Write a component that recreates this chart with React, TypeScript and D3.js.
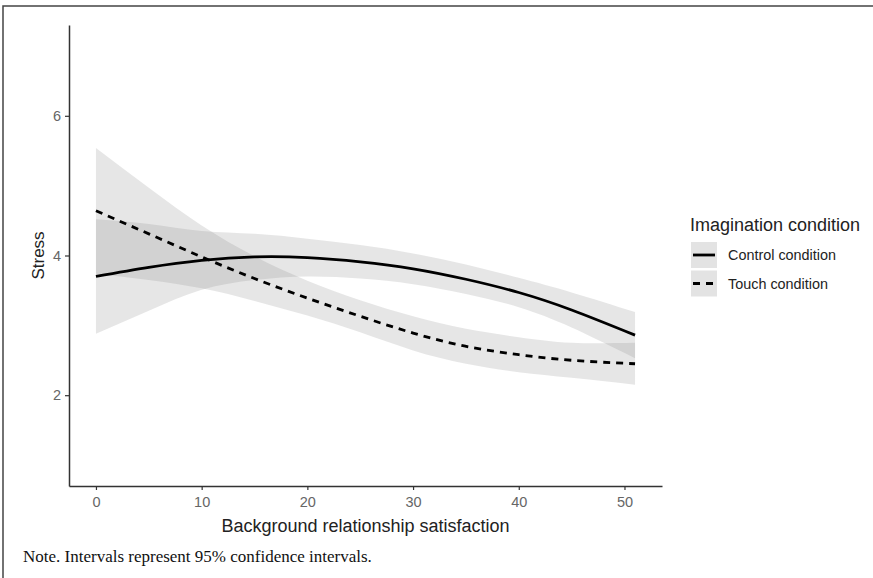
import { useEffect, useRef } from "react";
import * as d3 from "d3";

const width = 873;
const height = 578;
const panel = { left: 69, right: 662, top: 25, bottom: 486 };

// values
const satisfaction = [0, 5, 10, 15, 20, 25, 30, 35, 40, 45, 51];
const controlFit = [3.7, 3.83, 3.93, 3.98, 3.97, 3.91, 3.81, 3.66, 3.47, 3.22, 2.86];
const controlLow = [2.88, 3.21, 3.51, 3.65, 3.7, 3.67, 3.59, 3.45, 3.26, 2.97, 2.53];
const controlHigh = [4.52, 4.45, 4.35, 4.31, 4.24, 4.15, 4.03, 3.87, 3.68, 3.47, 3.19];
const touchFit = [4.64, 4.31, 3.98, 3.67, 3.39, 3.13, 2.89, 2.7, 2.58, 2.5, 2.45];
const touchLow = [3.74, 3.65, 3.53, 3.35, 3.14, 2.9, 2.64, 2.45, 2.33, 2.25, 2.15];
const touchHigh = [5.54, 4.97, 4.43, 3.99, 3.64, 3.36, 3.13, 2.95, 2.83, 2.75, 2.75];

const xTicks = [0, 10, 20, 30, 40, 50];
const yTicks = [2, 4, 6];
const conditions = ["Control condition", "Touch condition"];
const dashes = ["none", "7,6"];

const sans = "'Liberation Sans', Arial, sans-serif";

const xScale = d3.scaleLinear().domain([-2.55, 53.55]).range([panel.left, panel.right]);
const yScale = d3.scaleLinear().domain([0.7, 7.3]).range([panel.bottom, panel.top]);

type Pt = { x: number; fit: number; lo: number; hi: number };

const toPts = (fit: number[], lo: number[], hi: number[]): Pt[] =>
  satisfaction.map((x, i) => ({ x, fit: fit[i], lo: lo[i], hi: hi[i] }));

const series = [
  toPts(controlFit, controlLow, controlHigh),
  toPts(touchFit, touchLow, touchHigh),
];

const line = d3
  .line<Pt>()
  .x((d) => xScale(d.x))
  .y((d) => yScale(d.fit))
  .curve(d3.curveNatural);

const ribbon = d3
  .area<Pt>()
  .x((d) => xScale(d.x))
  .y0((d) => yScale(d.lo))
  .y1((d) => yScale(d.hi))
  .curve(d3.curveNatural);

const App = () => {
  const xAxisRef = useRef(null);
  const yAxisRef = useRef(null);

  // axes
  useEffect(() => {
    const style = (g: any) => {
      g.select(".domain").attr("stroke", "#333").attr("stroke-width", 1.5);
      g.selectAll(".tick line").attr("stroke", "#333").attr("stroke-width", 1.2);
      g.selectAll(".tick text")
        .attr("fill", "#666")
        .style("font-family", sans)
        .style("font-size", "14.5px");
    };
    if (xAxisRef.current) {
      const xAxis = d3
        .axisBottom(xScale)
        .tickValues(xTicks)
        .tickFormat(d3.format("d"))
        .tickSize(4)
        .tickSizeOuter(0)
        .tickPadding(7);
      d3.select<SVGGElement, unknown>(xAxisRef.current).call(xAxis).call(style);
    }
    if (yAxisRef.current) {
      const yAxis = d3
        .axisLeft(yScale)
        .tickValues(yTicks)
        .tickFormat(d3.format("d"))
        .tickSize(4)
        .tickSizeOuter(0)
        .tickPadding(4);
      d3.select<SVGGElement, unknown>(yAxisRef.current).call(yAxis).call(style);
    }
  }, []);

  return (
    <svg width={width} height={height} style={{ position: "absolute", left: 0, top: 0, background: "#fff" }}>
      {/* frame */}
      <path d={`M3,${height} V6 H${width}`} fill="none" stroke="#444" strokeWidth={1.5} />

      {series.map((s, i) => (
        <path key={"r" + i} d={ribbon(s) ?? ""} fill="#808080" fillOpacity={0.2} />
      ))}
      {series.map((s, i) => (
        <path
          key={"l" + i}
          d={line(s) ?? ""}
          fill="none"
          stroke="#000"
          strokeWidth={2.8}
          strokeDasharray={dashes[i]}
        />
      ))}

      <g ref={xAxisRef} transform={`translate(0, ${panel.bottom})`} />
      <g ref={yAxisRef} transform={`translate(${panel.left}, 0)`} />

      <text
        x={(panel.left + panel.right) / 2}
        y={532}
        textAnchor="middle"
        fontFamily={sans}
        fontSize={18}
        fill="#222"
      >
        Background relationship satisfaction
      </text>
      <text
        transform={`translate(44, ${(panel.top + panel.bottom) / 2}) rotate(-90)`}
        textAnchor="middle"
        fontFamily={sans}
        fontSize={17}
        fill="#222"
      >
        Stress
      </text>

      {/* legend */}
      <text x={690} y={231} fontFamily={sans} fontSize={18} fill="#222">
        Imagination condition
      </text>
      {conditions.map((c, i) => {
        const y0 = 242 + i * 28.5;
        return (
          <g key={c}>
            <rect x={691} y={y0} width={26} height={26} fill="#e3e3e3" />
            <line
              x1={693}
              x2={715}
              y1={y0 + 13}
              y2={y0 + 13}
              stroke="#000"
              strokeWidth={2.8}
              strokeDasharray={dashes[i]}
            />
            <text x={728} y={y0 + 18} fontFamily={sans} fontSize={14.4} fill="#222">
              {c}
            </text>
          </g>
        );
      })}

      <text x={23} y={562} fontFamily="'Liberation Serif', 'Times New Roman', serif" fontSize={17} fill="#111">
        Note. Intervals represent 95% confidence intervals.
      </text>
    </svg>
  );
};

export default App;
